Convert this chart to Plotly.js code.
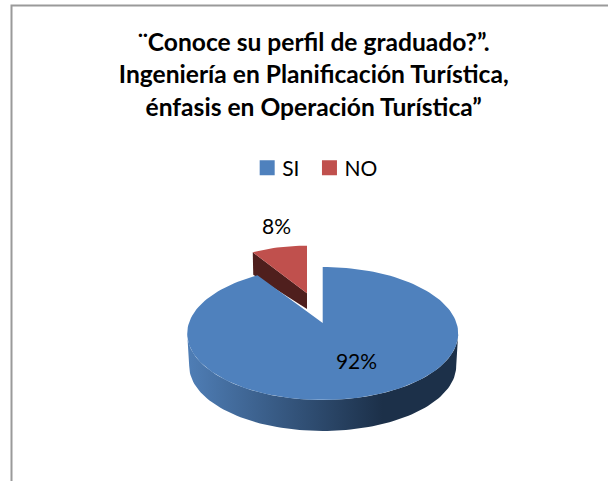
<!DOCTYPE html>
<html><head><meta charset="utf-8">
<script src="https://cdn.plot.ly/plotly-3.0.1.min.js"></script>
<style>html,body{margin:0;padding:0;background:#fff}#c{width:608px;height:481px}</style>
</head><body><div id="c"></div>
<script>
const categories = ['SI', 'NO'];
const shares = [92, 8];
const titleLines = ['¨Conoce su perfil de graduado?”.', 'Ingeniería en Planificación Turística,', 'énfasis en Operación Turística”'];

const colours = {si: '#4f81bd', no: '#c0504d', noSide: '#4f1f1d', wallA: '#4f7eb6', wallB: '#1c3049'};
const total = shares.reduce((a, b) => a + b, 0);
const sweepSI = shares[0] / total * 360;
const rad = d => d * Math.PI / 180;

// perspective ellipses of the tilted pie, in page-pixel axis units
const topE = {cx: 322.7, cy: 333.5, rx: 135.5, ry: 66.5, ax: 322.7, ay: 323};
const lowE = {cx: 322.7, cy: 366, rx: 133.5, ry: 65};
const noE = {cx: 307, cy: 298.9, rx: 112.6, ry: 53.2, ax: 307, ay: 293.3};
const noDepth = {edge: 22.5, apex: 15.7};

const pt = (e, d) => [e.cx + e.rx * Math.sin(rad(d)), e.cy - e.ry * Math.cos(rad(d))];
function arc(e, a, b) {
  const out = [], n = Math.max(4, Math.ceil(Math.abs(b - a) / 2));
  for (let i = 0; i <= n; i++) out.push(pt(e, a + (b - a) * i / n));
  return out;
}
function poly(points, colour, extra) {
  return Object.assign({
    type: 'scatter', mode: 'lines', x: points.map(p => p[0]), y: points.map(p => p[1]),
    fill: 'toself', fillcolor: colour, line: {width: 0}, showlegend: false, hoverinfo: 'skip'
  }, extra || {});
}

const noEdge = pt(noE, sweepSI);
const noSide = [noEdge, [noE.ax, noE.ay], [noE.ax, noE.ay + noDepth.apex], [noEdge[0] + 0.5, noEdge[1] + noDepth.edge]];
const noTop = [[noE.ax, noE.ay]].concat(arc(noE, sweepSI, 360));
const wall = arc(topE, 90, 270).concat(arc(lowE, 270, 90));
const siTop = [[topE.ax, topE.ay]].concat(arc(topE, 0, sweepSI));

const traces = [
  poly(noSide, colours.noSide),
  poly(noTop, colours.no),
  poly(wall, colours.wallB, {fillgradient: {type: 'horizontal', colorscale: [[0, colours.wallA], [0.72, colours.wallB], [1, colours.wallB]]}}),
  poly(siTop, colours.si),
  {type: 'scatter', mode: 'text', x: [356.5, 276.5], y: [364, 229],
   text: shares.map(v => Math.round(v / total * 100) + '%'), textposition: 'middle center',
   textfont: {family: 'Lato, sans-serif', size: 21, color: '#000'}, showlegend: false, hoverinfo: 'skip'},
  {type: 'scatter', mode: 'markers', name: categories[0], x: [null], y: [null], marker: {symbol: 'square', size: 15, color: colours.si}},
  {type: 'scatter', mode: 'markers', name: categories[1], x: [null], y: [null], marker: {symbol: 'square', size: 15, color: colours.no}}
];

const hidden = {visible: false, fixedrange: true};
const layout = {
  width: 608, height: 481, margin: {l: 0, r: 0, t: 0, b: 0},
  paper_bgcolor: '#fff', plot_bgcolor: '#fff', showlegend: true,
  title: {text: titleLines.join('<br>'), x: 0.516, xanchor: 'center', y: 0.91, yanchor: 'middle',
          font: {family: 'Lato, sans-serif', size: 24.6, color: '#000', weight: 'bold'}},
  xaxis: Object.assign({range: [0, 608]}, hidden),
  yaxis: Object.assign({range: [481, 0]}, hidden),
  legend: {orientation: 'h', x: 0.5225, xanchor: 'center', y: 1 - 168 / 481, yanchor: 'middle',
           font: {family: 'Lato, sans-serif', size: 21, color: '#000'}, bgcolor: 'rgba(0,0,0,0)', itemclick: false, itemdoubleclick: false},
  shapes: [{type: 'rect', xref: 'paper', yref: 'paper', layer: 'below', x0: 11.5 / 608, x1: 1.02, y0: -0.02, y1: 1 - 5.5 / 481,
            line: {color: '#9a9a9a', width: 2}, fillcolor: 'rgba(0,0,0,0)'}]
};

Plotly.newPlot('c', traces, layout, {displayModeBar: false}).then(() => {
  // the source chart's title has a looser line spacing than Plotly's default
  const base = 50.7;
  const t = document.querySelector('.gtitle');
  if (t) { t.removeAttribute('dy'); t.setAttribute('y', base); }
  document.querySelectorAll('.gtitle .line').forEach((l, i) => {
    l.setAttribute('dy', 0);
    l.setAttribute('y', base + i * 32.5);
  });
  // the source legend keeps its labels close to the swatches
  document.querySelectorAll('.legendtext').forEach(l => l.setAttribute('x', 35));
});
</script></body></html>
